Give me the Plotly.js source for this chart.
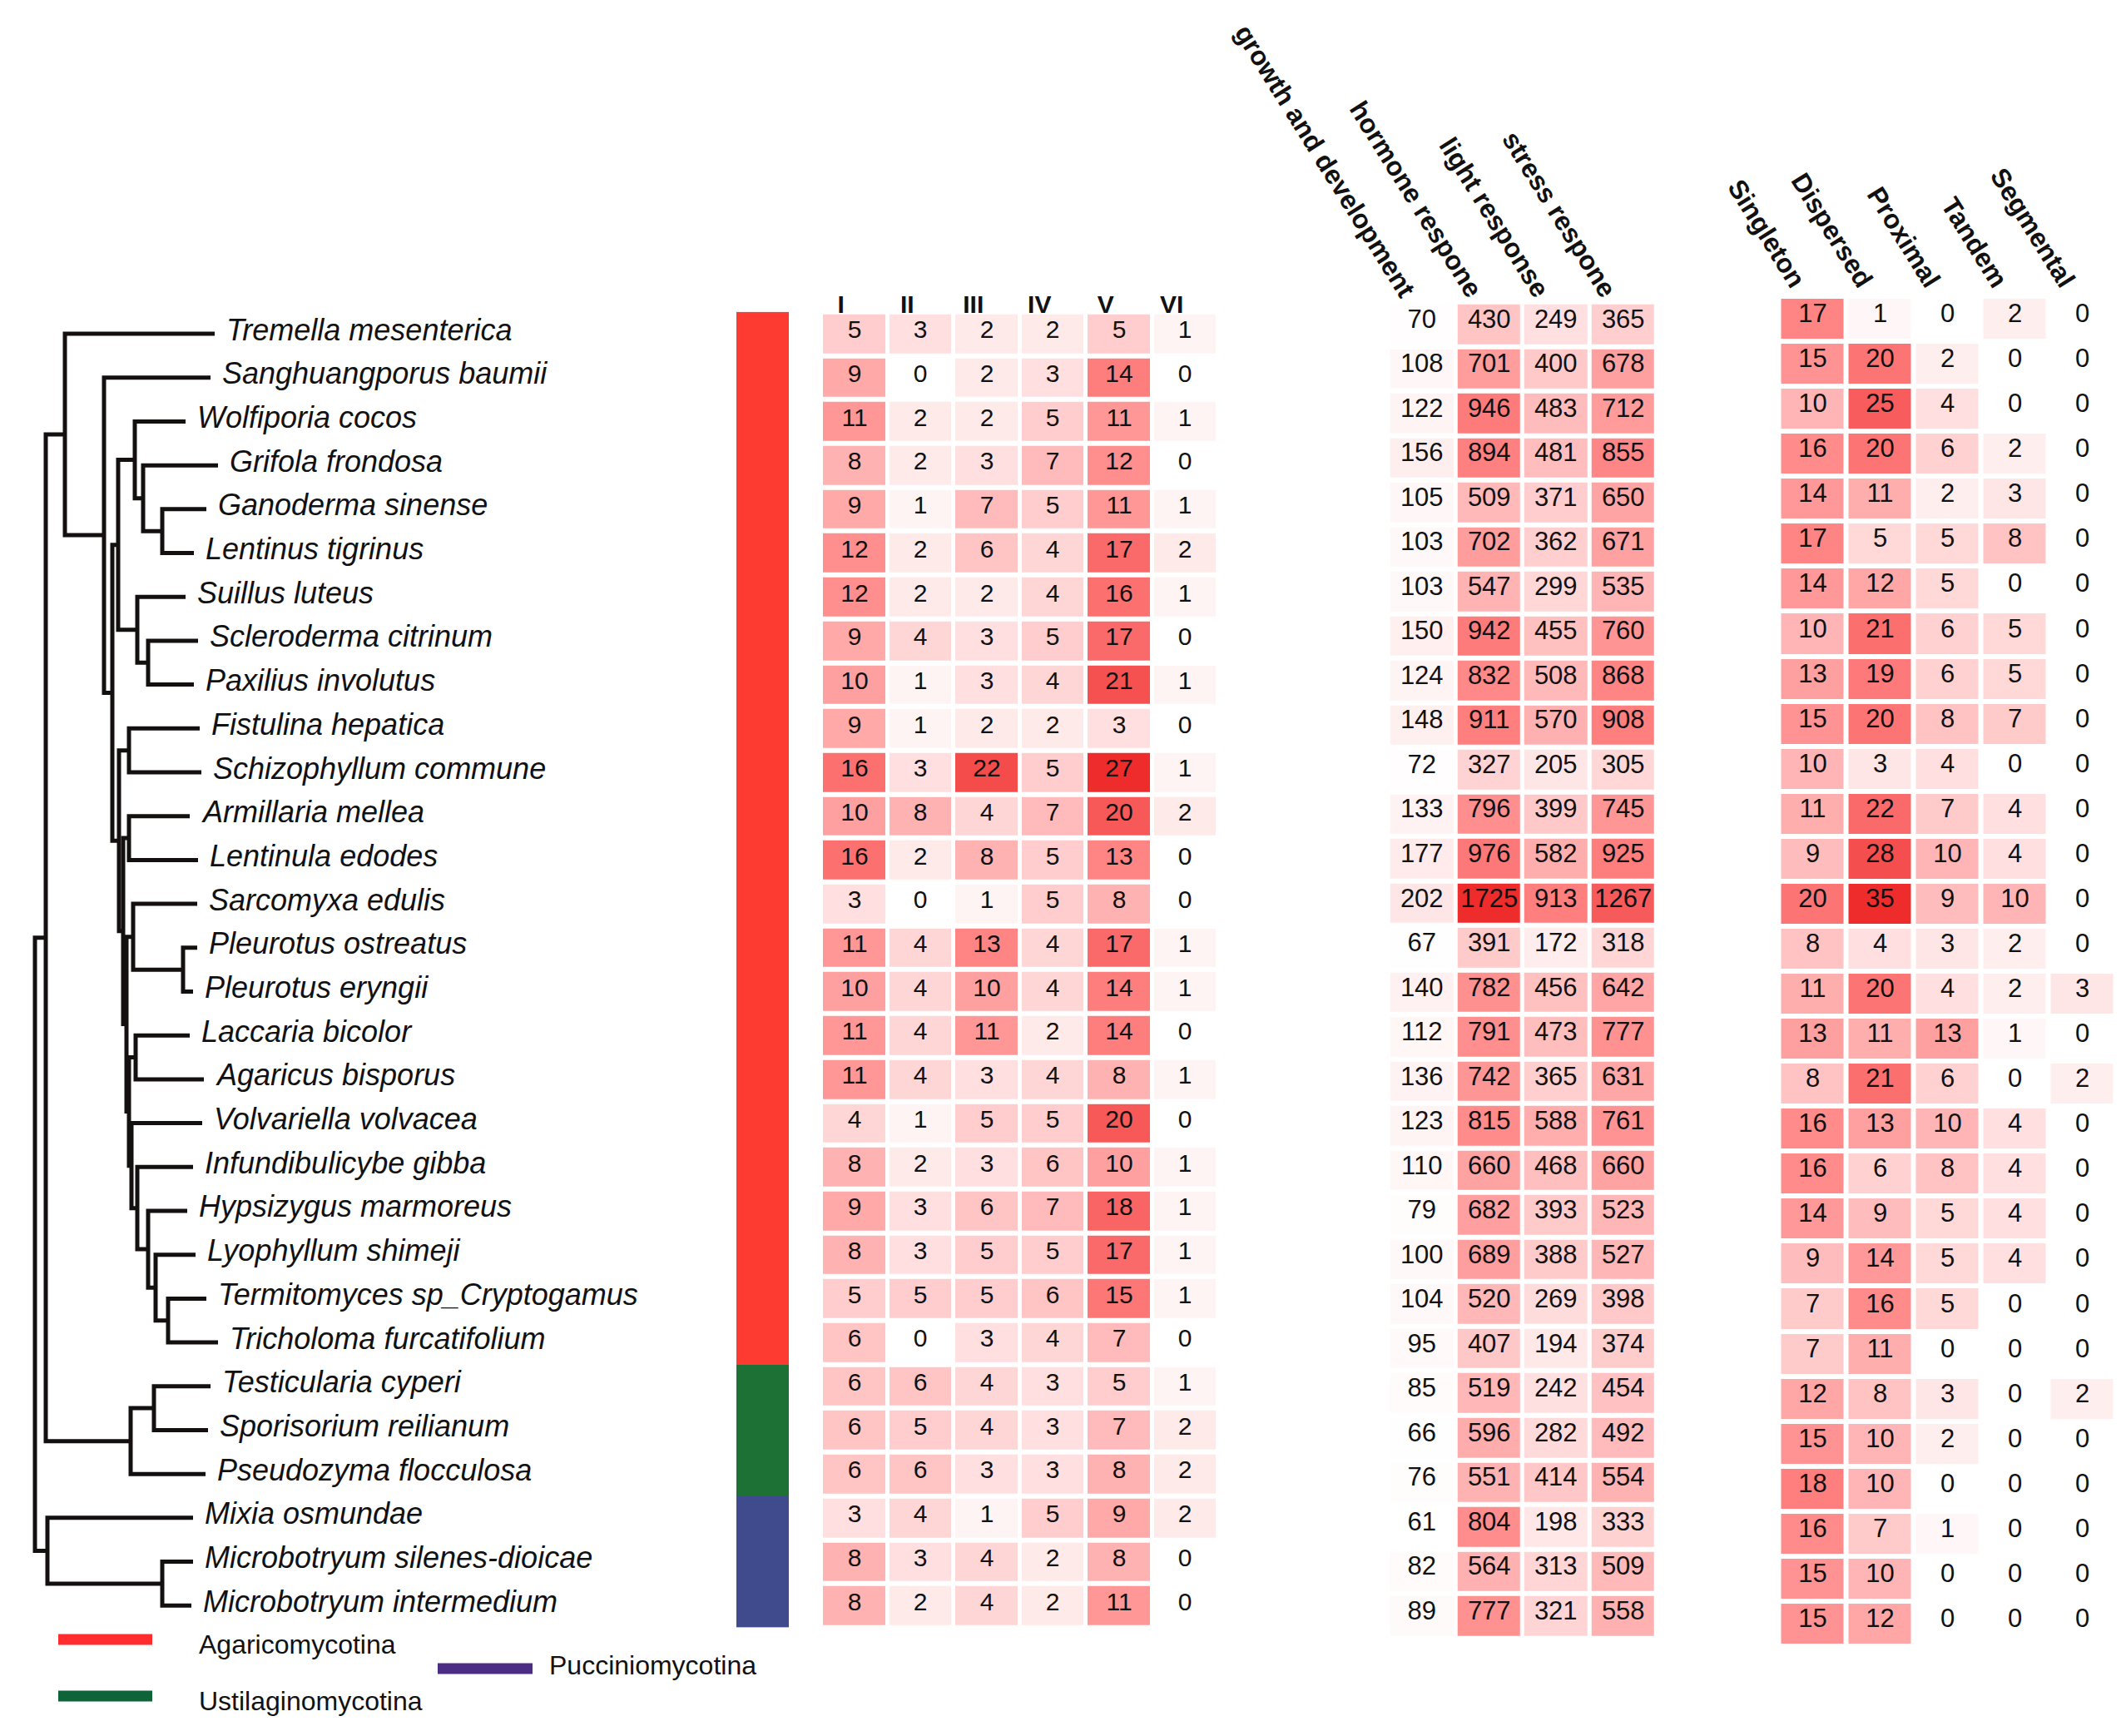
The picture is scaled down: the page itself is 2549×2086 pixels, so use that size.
<!DOCTYPE html>
<html><head><meta charset="utf-8">
<script src="https://cdn.plot.ly/plotly-3.0.1.min.js"></script>
<style>html,body{margin:0;padding:0;background:#fff;} #chart{width:2549px;height:2086px;}</style>
</head><body><div id="chart"></div>
<script>
// ---------------- DATA ----------------
const species = [
  'Tremella mesenterica','Sanghuangporus baumii','Wolfiporia cocos','Grifola frondosa',
  'Ganoderma sinense','Lentinus tigrinus','Suillus luteus','Scleroderma citrinum',
  'Paxilius involutus','Fistulina hepatica','Schizophyllum commune','Armillaria mellea',
  'Lentinula edodes','Sarcomyxa edulis','Pleurotus ostreatus','Pleurotus eryngii',
  'Laccaria bicolor','Agaricus bisporus','Volvariella volvacea','Infundibulicybe gibba',
  'Hypsizygus marmoreus','Lyophyllum shimeji','Termitomyces sp_Cryptogamus','Tricholoma furcatifolium',
  'Testicularia cyperi','Sporisorium reilianum','Pseudozyma flocculosa','Mixia osmundae',
  'Microbotryum silenes-dioicae','Microbotryum intermedium'
];
const subphylum = [
  'Agaricomycotina','Agaricomycotina','Agaricomycotina','Agaricomycotina','Agaricomycotina','Agaricomycotina',
  'Agaricomycotina','Agaricomycotina','Agaricomycotina','Agaricomycotina','Agaricomycotina','Agaricomycotina',
  'Agaricomycotina','Agaricomycotina','Agaricomycotina','Agaricomycotina','Agaricomycotina','Agaricomycotina',
  'Agaricomycotina','Agaricomycotina','Agaricomycotina','Agaricomycotina','Agaricomycotina','Agaricomycotina',
  'Ustilaginomycotina','Ustilaginomycotina','Ustilaginomycotina',
  'Pucciniomycotina','Pucciniomycotina','Pucciniomycotina'
];
const groupNames  = ['Agaricomycotina','Ustilaginomycotina','Pucciniomycotina'];
const stripColors = ['#FE3B30','#1D7134','#3F4B8C'];
const legendColors = ['#FF2D2D','#0F6338','#4B2D84'];

const classLabels = ['I','II','III','IV','V','VI'];
const classCounts = [
  [5,3,2,2,5,1],[9,0,2,3,14,0],[11,2,2,5,11,1],[8,2,3,7,12,0],[9,1,7,5,11,1],
  [12,2,6,4,17,2],[12,2,2,4,16,1],[9,4,3,5,17,0],[10,1,3,4,21,1],[9,1,2,2,3,0],
  [16,3,22,5,27,1],[10,8,4,7,20,2],[16,2,8,5,13,0],[3,0,1,5,8,0],[11,4,13,4,17,1],
  [10,4,10,4,14,1],[11,4,11,2,14,0],[11,4,3,4,8,1],[4,1,5,5,20,0],[8,2,3,6,10,1],
  [9,3,6,7,18,1],[8,3,5,5,17,1],[5,5,5,6,15,1],[6,0,3,4,7,0],[6,6,4,3,5,1],
  [6,5,4,3,7,2],[6,6,3,3,8,2],[3,4,1,5,9,2],[8,3,4,2,8,0],[8,2,4,2,11,0]
];

const goLabels = ['growth and development','hormone respone','light response','stress respone'];
const goCounts = [
  [70,430,249,365],[108,701,400,678],[122,946,483,712],[156,894,481,855],[105,509,371,650],
  [103,702,362,671],[103,547,299,535],[150,942,455,760],[124,832,508,868],[148,911,570,908],
  [72,327,205,305],[133,796,399,745],[177,976,582,925],[202,1725,913,1267],[67,391,172,318],
  [140,782,456,642],[112,791,473,777],[136,742,365,631],[123,815,588,761],[110,660,468,660],
  [79,682,393,523],[100,689,388,527],[104,520,269,398],[95,407,194,374],[85,519,242,454],
  [66,596,282,492],[76,551,414,554],[61,804,198,333],[82,564,313,509],[89,777,321,558]
];

const dupLabels = ['Singleton','Dispersed','Proximal','Tandem','Segmental'];
const dupCounts = [
  [17,1,0,2,0],[15,20,2,0,0],[10,25,4,0,0],[16,20,6,2,0],[14,11,2,3,0],
  [17,5,5,8,0],[14,12,5,0,0],[10,21,6,5,0],[13,19,6,5,0],[15,20,8,7,0],
  [10,3,4,0,0],[11,22,7,4,0],[9,28,10,4,0],[20,35,9,10,0],[8,4,3,2,0],
  [11,20,4,2,3],[13,11,13,1,0],[8,21,6,0,2],[16,13,10,4,0],[16,6,8,4,0],
  [14,9,5,4,0],[9,14,5,4,0],[7,16,5,0,0],[7,11,0,0,0],[12,8,3,0,2],
  [15,10,2,0,0],[18,10,0,0,0],[16,7,1,0,0],[15,10,0,0,0],[15,12,0,0,0]
];

// Tree: leaf tip depth per species, and internal nodes [id, depth, childA, childB]
// (children: leaf index as number, or internal node id)
const leafDepth = [258,253,223,262,248,233,223,238,233,240,242,228,238,237,237,232,
                   228,245,243,232,225,235,248,262,253,250,247,232,232,230];
const treeNodes = [
  ['root',42,'AU','PU'], ['AU',55,'T1','UST'], ['T1',78,0,'T2'], ['T2',125,1,'T3'],
  ['T3',135,'T4','T5'], ['T4',142,'W1','S1'], ['W1',162,2,'W2'], ['W2',172,3,'W3'],
  ['W3',195,4,5], ['S1',165,6,'S2'], ['S2',178,7,8], ['T5',143,'F1','T6'],
  ['F1',155,9,10], ['T6',148,'A1','T7'], ['A1',155,11,12], ['T7',152,'SP','T8'],
  ['SP',160,13,'PL'], ['PL',220,14,15], ['T8',155,'LA','T9'], ['LA',163,16,17],
  ['T9',158,18,'IH'], ['IH',165,19,'H1'], ['H1',178,20,'H2'], ['H2',187,21,'H3'],
  ['H3',202,22,23], ['UST',157,'UT',26], ['UT',185,24,25], ['PU',57,27,'MB'], ['MB',195,28,29]
];

// ---------------- BUILD ----------------
const W = 2549, H = 2086;
const px = v => v / W, py = v => 1 - v / H;
const FONT = '"Liberation Sans", Arial, sans-serif';
const scale = [[0,'#FFFFFF'],[0.1,'#FFE2E2'],[0.5,'#FF8080'],[1,'#EE2C2C']];
const clear = [[0,'rgba(0,0,0,0)'],[1,'rgba(0,0,0,0)']];
const rows = species.map((_, i) => i);

const nodeMap = {}; treeNodes.forEach(n => nodeMap[n[0]] = n);
const yOf = c => typeof c === 'number' ? c : (yOf(nodeMap[c][2]) + yOf(nodeMap[c][3])) / 2;
const xOf = c => typeof c === 'number' ? leafDepth[c] : nodeMap[c][1];
const tx = [], ty = [];
treeNodes.forEach(([id, d, a, b]) => {
  tx.push(xOf(a), d, d, xOf(b), null);
  ty.push(yOf(a), yOf(a), yOf(b), yOf(b), null);
});

// cells (no text) + a transparent twin carrying the numbers on a slightly raised y axis
function heat(z, labels, xa, ya, yText, font, xgap, ygap) {
  const all = z.flat();
  const base = {type: 'heatmap', z: z, x: labels.map((_, j) => j), y: rows, xaxis: xa,
    zmin: Math.min(...all), zmax: Math.max(...all), showscale: false, hoverinfo: 'skip', xgap: xgap, ygap: ygap};
  return [
    Object.assign({}, base, {yaxis: ya, colorscale: scale}),
    Object.assign({}, base, {yaxis: yText, colorscale: clear, texttemplate: '%{z}', textfont: font})
  ];
}

const traces = [
  {type: 'scatter', mode: 'lines', x: tx, y: ty, xaxis: 'x4', yaxis: 'y',
   line: {color: '#141010', width: 5}, hoverinfo: 'skip', showlegend: false},
  {type: 'heatmap', z: subphylum.map(s => [groupNames.indexOf(s)]), x: [0], y: rows,
   xaxis: 'x5', yaxis: 'y', zmin: 0, zmax: 2, showscale: false, hoverinfo: 'skip',
   colorscale: [[0, stripColors[0]], [0.5, stripColors[1]], [1, stripColors[2]]]},
  ...heat(classCounts, classLabels, 'x', 'y', 'y6', {family: FONT, size: 30, color: '#111'}, 5, 6),
  ...heat(goCounts, goLabels, 'x2', 'y2', 'y7', {family: FONT, size: 31, color: '#111'}, 5, 6),
  ...heat(dupCounts, dupLabels, 'x3', 'y3', 'y8', {family: FONT, size: 31, color: '#111'}, 6, 6)
];

const hidden = {showgrid: false, zeroline: false, showline: false, ticks: '', showticklabels: false, fixedrange: true};
const topAxis = (labels, angle, size) => Object.assign({}, hidden, {
  side: 'top', showticklabels: true, tickmode: 'array', tickvals: labels.map((_, j) => j),
  ticktext: labels, tickangle: angle, tickfont: {family: FONT, size: size, color: '#111', weight: 'bold'}
});
const rowAxis = (top, bottom, anchor) => Object.assign({}, hidden,
  {domain: [py(bottom), py(top)], range: [29.5, -0.5], anchor: anchor});

const annotations = species.map((s, i) => ({
  x: leafDepth[i], y: i, xref: 'x4', yref: 'y', text: s, showarrow: false,
  xanchor: 'left', yanchor: 'middle', xshift: 12, yshift: 5,
  font: {family: FONT, size: 36, style: 'italic', color: '#111'}
}));

// legend (custom, below the tree)
const legendPos = [[70, 183, 1970, 237, 1976], [70, 183, 2038, 237, 2044], [526, 640, 2005, 658, 2001]];
const shapes = [];
groupNames.forEach((g, k) => {
  const [x0, x1, yy, tx0, ty0] = legendPos[k];
  shapes.push({type: 'line', xref: 'paper', yref: 'paper', x0: px(x0), x1: px(x1), y0: py(yy), y1: py(yy),
               line: {color: legendColors[k], width: 13}});
  annotations.push({xref: 'paper', yref: 'paper', x: px(tx0), y: py(ty0), text: g, showarrow: false,
                    xanchor: 'left', yanchor: 'middle', font: {family: FONT, size: 32, color: '#111'}});
});

const layout = {
  width: W, height: H, margin: {l: 0, r: 0, t: 0, b: 0}, paper_bgcolor: '#fff', plot_bgcolor: 'rgba(0,0,0,0)',
  showlegend: false, font: {family: FONT},
  xaxis:  Object.assign(topAxis(classLabels, 0, 30), {domain: [px(987), px(1464)], range: [-0.5, 5.5], anchor: 'y',
                        ticklabelshift: -16, ticklabelstandoff: -8}),
  yaxis:  rowAxis(374.7, 1955.6, 'x'),
  yaxis6: rowAxis(374.7 - 5, 1955.6 - 5, 'x'),
  xaxis2: Object.assign(topAxis(goLabels, 58, 32), {domain: [px(1668.75), px(1990.75)], range: [-0.5, 3.5], anchor: 'y2',
                        ticklabelshift: -12, ticklabelstandoff: -12}),
  yaxis2: rowAxis(362.7, 1968.3, 'x2'),
  yaxis7: rowAxis(362.7 - 7, 1968.3 - 7, 'x2'),
  xaxis3: Object.assign(topAxis(dupLabels, 58, 32), {domain: [px(2137.5), 1], range: [-0.5, 4.58], anchor: 'y3',
                        ticklabelshift: -12, ticklabelstandoff: -7}),
  yaxis3: rowAxis(356, 1978, 'x3'),
  yaxis8: rowAxis(356 - 7, 1978 - 7, 'x3'),
  xaxis4: Object.assign({}, hidden, {domain: [0, 0.34], range: [0, 0.34 * W], anchor: 'y'}),
  xaxis5: Object.assign({}, hidden, {domain: [px(885), px(948)], range: [-0.5, 0.5], anchor: 'y'}),
  annotations: annotations, shapes: shapes
};

Plotly.newPlot('chart', traces, layout, {staticPlot: true, displayModeBar: false});
</script></body></html>
